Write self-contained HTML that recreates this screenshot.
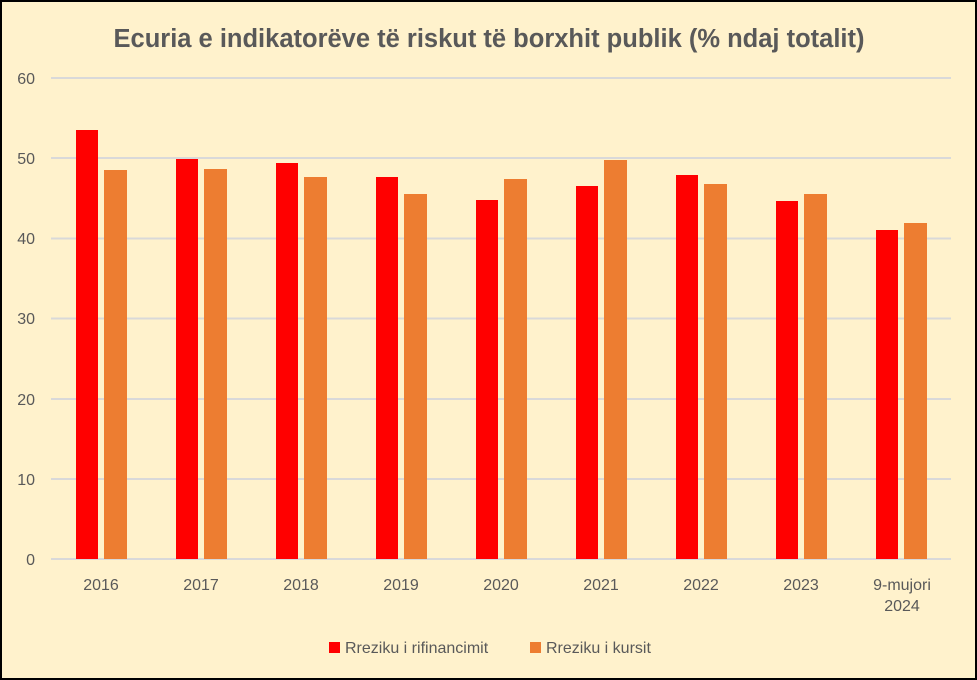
<!DOCTYPE html>
<html><head><meta charset="utf-8"><style>
body{margin:0;background:#fff}
.c{position:absolute;left:0;top:0;width:977px;height:680px;box-sizing:border-box;border:2px solid #000;background:#FFF2CC;font-family:"Liberation Sans",sans-serif}
</style></head><body><div class="c">
<svg width="973" height="676" viewBox="2 2 973 676" xmlns="http://www.w3.org/2000/svg" style="position:absolute;left:0;top:0">
<text x="489" y="47" text-anchor="middle" font-size="25.5" font-weight="bold" fill="#595959" font-family="Liberation Sans">Ecuria e indikatorëve të riskut të borxhit publik (% ndaj totalit)</text>
<g stroke="#D9D9D9" stroke-width="2">
<line x1="51" x2="951" y1="78" y2="78"/><line x1="51" x2="951" y1="158" y2="158"/><line x1="51" x2="951" y1="238.5" y2="238.5"/><line x1="51" x2="951" y1="318.5" y2="318.5"/><line x1="51" x2="951" y1="399" y2="399"/><line x1="51" x2="951" y1="479" y2="479"/><line x1="51" x2="951" y1="559" y2="559"/>
</g>
<g font-size="16" fill="#595959" text-anchor="end" font-family="Liberation Sans">
<text x="35" y="84">60</text><text x="35" y="164">50</text><text x="35" y="244">40</text><text x="35" y="324">30</text><text x="35" y="405">20</text><text x="35" y="485">10</text><text x="35" y="565">0</text>
</g>
<g fill="#FF0000">
<rect x="76" y="130" width="22" height="429"/><rect x="176" y="159" width="22" height="400"/><rect x="276" y="163" width="22" height="396"/><rect x="376" y="177" width="22" height="382"/><rect x="476" y="200" width="22" height="359"/><rect x="576" y="186" width="22" height="373"/><rect x="676" y="175" width="22" height="384"/><rect x="776" y="201" width="22" height="358"/><rect x="876" y="230" width="22" height="329"/>
</g>
<g fill="#ED7D31">
<rect x="104" y="170" width="23" height="389"/><rect x="204" y="169" width="23" height="390"/><rect x="304" y="177" width="23" height="382"/><rect x="404" y="194" width="23" height="365"/><rect x="504" y="179" width="23" height="380"/><rect x="604" y="160" width="23" height="399"/><rect x="704" y="184" width="23" height="375"/><rect x="804" y="194" width="23" height="365"/><rect x="904" y="223" width="23" height="336"/>
</g>
<g font-size="16" fill="#595959" text-anchor="middle" font-family="Liberation Sans">
<text x="101" y="590">2016</text><text x="201" y="590">2017</text><text x="301" y="590">2018</text><text x="401" y="590">2019</text><text x="501" y="590">2020</text><text x="601" y="590">2021</text><text x="701" y="590">2022</text><text x="801" y="590">2023</text><text x="902" y="590">9-mujori</text><text x="902" y="611">2024</text>
</g>
<rect x="329" y="642" width="11" height="11" fill="#FF0000"/>
<text x="345" y="653" font-size="16" fill="#595959" font-family="Liberation Sans">Rreziku i rifinancimit</text>
<rect x="530" y="642" width="11" height="11" fill="#ED7D31"/>
<text x="546" y="653" font-size="16" fill="#595959" font-family="Liberation Sans">Rreziku i kursit</text>
</svg></div></body></html>
